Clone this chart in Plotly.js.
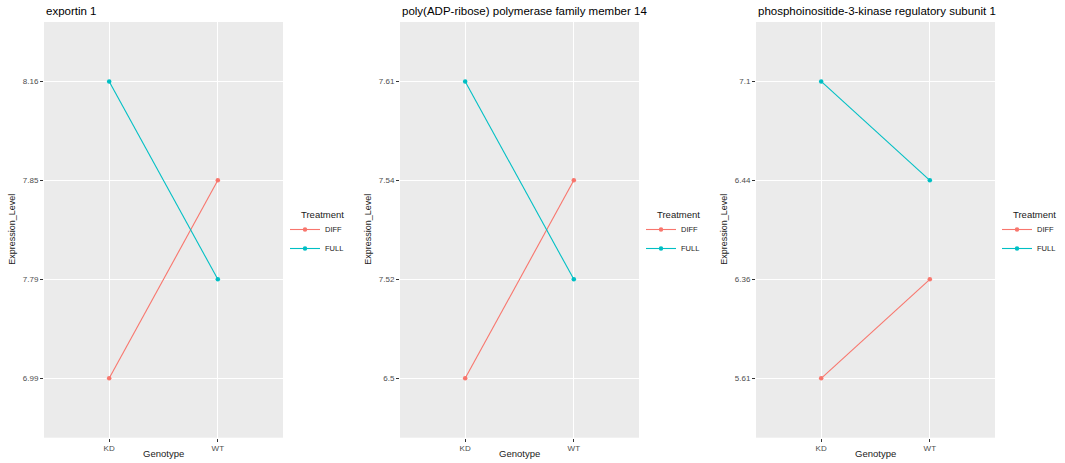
<!DOCTYPE html>
<html><head><meta charset="utf-8">
<script src="https://cdn.plot.ly/plotly-3.0.1.min.js"></script>
<style>html,body{margin:0;padding:0;background:#fff}#chart{width:1065px;height:463px}</style>
</head><body><div id="chart"></div>
<script>
const genotypes = ["KD", "WT"];
const panelTitles = ["exportin 1", "poly(ADP-ribose) polymerase family member 14", "phosphoinositide-3-kinase regulatory subunit 1"];
const diffValues = [[6.99, 7.85], [6.5, 7.54], [5.61, 6.36]];
const fullValues = [[8.16, 7.79], [7.61, 7.52], [7.1, 6.44]];
const treatments = ["DIFF", "FULL"];
const legendTitle = "Treatment";
const colors = ["#F8766D", "#00BFC4"];

(function () {
const W = 1065, H = 463;
const panelLeft = [44, 400, 756];
const panelWidth = 239;
const pTop = 22, pBottom = 437.7;
const font = "Liberation Sans, Arial, sans-serif";

const traces = [];
const layout = {
  width: W, height: H, margin: {l: 0, r: 0, t: 0, b: 0, autoexpand: false},
  paper_bgcolor: "#fff", plot_bgcolor: "#EBEBEB",
  font: {family: font, color: "#4D4D4D"},
  annotations: [], shapes: [], showlegend: true
};

for (let p = 0; p < 3; p++) {
  const sfx = p === 0 ? "" : String(p + 1);
  const xa = "x" + sfx, ya = "y" + sfx;
  const lg = "legend" + sfx;
  const cats = diffValues[p].concat(fullValues[p]).slice().sort((a, b) => a - b).map(String);
  [diffValues[p], fullValues[p]].forEach((vals, t) => {
    traces.push({
      type: "scatter", mode: "lines+markers",
      x: genotypes, y: vals.map(String), xaxis: xa, yaxis: ya,
      name: treatments[t], legend: lg, showlegend: true,
      line: {color: colors[t], width: 1.1},
      marker: {color: colors[t], size: 4.5}
    });
  });
  const right = panelLeft[p] + panelWidth;
  layout["xaxis" + sfx] = {
    domain: [panelLeft[p] / W, right / W], anchor: ya, type: "category", categoryarray: genotypes,
    range: [-0.6, 1.6], showgrid: true, gridcolor: "#FFFFFF", gridwidth: 1.1,
    zeroline: false, showline: false, ticks: "outside", ticklen: 3, tickwidth: 1, tickcolor: "#333333",
    tickfont: {size: 8, color: "#4D4D4D", family: font}, fixedrange: true, automargin: false
  };
  layout["yaxis" + sfx] = {
    domain: [1 - pBottom / H, 1 - pTop / H], anchor: xa, type: "category", categoryarray: cats,
    range: [-0.6, 3.6], showgrid: true, gridcolor: "#FFFFFF", gridwidth: 1.1,
    zeroline: false, showline: false, ticks: "outside", ticklen: 3, tickwidth: 1, tickcolor: "#333333",
    tickfont: {size: 8, color: "#4D4D4D", family: font}, fixedrange: true, automargin: false
  };
  layout[lg] = {
    xref: "container", yref: "container",
    x: (right + 2) / W, y: 1 - 215 / H, xanchor: "left", yanchor: "top",
    bgcolor: "rgba(0,0,0,0)", font: {size: 7.5, color: "#1A1A1A", family: font},
    itemwidth: 30, tracegroupgap: 0
  };
  layout.annotations.push({
    text: legendTitle, xref: "paper", yref: "paper",
    x: (right + 16) / W, y: 1 - 214 / H, xanchor: "left", yanchor: "middle",
    showarrow: false, font: {size: 9.5, color: "#1A1A1A", family: font}
  });
  layout.annotations.push({
    text: panelTitles[p], xref: "paper", yref: "paper",
    x: panelLeft[p] / W, y: 1 - 11 / H, xanchor: "left", yanchor: "middle",
    showarrow: false, font: {size: 11.5, color: "#000", family: font}
  });
  layout.annotations.push({
    text: "Genotype", xref: "paper", yref: "paper",
    x: (panelLeft[p] + panelWidth / 2) / W, y: 1 - 453 / H, xanchor: "center", yanchor: "middle",
    showarrow: false, font: {size: 9.5, color: "#1A1A1A", family: font}
  });
  layout.annotations.push({
    text: "Expression_Level", xref: "paper", yref: "paper", textangle: -90,
    x: (panelLeft[p] - 32) / W, y: 1 - ((pTop + pBottom) / 2) / H, xanchor: "center", yanchor: "middle",
    showarrow: false, font: {size: 9, color: "#1A1A1A", family: font}
  });
}

Plotly.newPlot("chart", traces, layout, {displayModeBar: false, staticPlot: true});
})();
</script></body></html>
